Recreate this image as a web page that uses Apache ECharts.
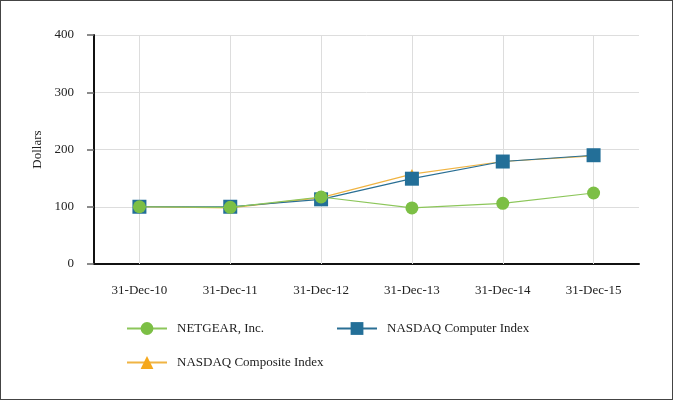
<!DOCTYPE html>
<html><head><meta charset="utf-8">
<script src="https://cdn.jsdelivr.net/npm/echarts@6/dist/echarts.min.js"></script>
<style>html,body{margin:0;padding:0;background:#fff}#c{width:671px;height:398px;border:1px solid #444;}</style>
</head><body><div id="c"></div>
<script>
const categories = ['31-Dec-10','31-Dec-11','31-Dec-12','31-Dec-13','31-Dec-14','31-Dec-15'];
const netgear = [100, 99, 117, 98, 106, 124];
const nasdaqComputer = [100, 100, 113, 149, 179, 190];
const nasdaqComposite = [100, 98, 116, 157, 179, 189];
const yTicks = [0, 100, 200, 300, 400];

const font = 'Liberation Serif';
const chart = echarts.init(document.getElementById('c'));
chart.setOption({
  animation: false,
  textStyle: {fontFamily: font},
  grid: {left: 93, top: 34, width: 545, height: 229},
  legend: [{
    left: 125, top: 321, padding: 0, itemWidth: 40, itemHeight: 16, itemGap: 72,
    textStyle: {fontFamily: font, fontSize: 13, color: '#222', padding: [0, 0, 0, 5]},
    data: ['NETGEAR, Inc.', 'NASDAQ Computer Index']
  }, {
    left: 125, top: 355, padding: 0, itemWidth: 40, itemHeight: 16,
    textStyle: {fontFamily: font, fontSize: 13, color: '#222', padding: [0, 0, 0, 5]},
    data: ['NASDAQ Composite Index']
  }],
  xAxis: {
    type: 'category', data: categories, boundaryGap: true,
    axisLine: {lineStyle: {color: '#111', width: 2}},
    axisTick: {show: false},
    axisLabel: {fontFamily: font, fontSize: 13, color: '#222', margin: 20},
    splitLine: {show: false}
  },
  yAxis: {
    type: 'value', min: yTicks[0], max: yTicks[yTicks.length-1], interval: 100,
    name: 'Dollars', nameLocation: 'middle', nameGap: 49,
    nameTextStyle: {fontFamily: font, fontSize: 13, color: '#222'},
    axisLine: {show: true, onZero: false, lineStyle: {color: '#111', width: 2}},
    axisTick: {show: true, inside: false, length: 7, lineStyle: {color: '#666', width: 1.5}},
    axisLabel: {fontFamily: font, fontSize: 13, color: '#222', margin: 20},
    splitLine: {lineStyle: {color: '#ddd'}}
  },
  series: [{
    name: 'NETGEAR, Inc.', type: 'line', data: netgear, z: 4,
    symbol: 'circle', symbolSize: 13,
    lineStyle: {color: '#8cc65a', width: 1.2},
    itemStyle: {color: '#7cbf45'}
  }, {
    name: 'NASDAQ Computer Index', type: 'line', data: nasdaqComputer, z: 3,
    symbol: 'rect', symbolSize: 14,
    lineStyle: {color: '#2a6f94', width: 1.2},
    itemStyle: {color: '#236f98'}
  }, {
    name: 'NASDAQ Composite Index', type: 'line', data: nasdaqComposite, z: 2,
    symbol: 'triangle', symbolSize: 10,
    lineStyle: {color: '#f0b443', width: 1.2},
    itemStyle: {color: '#f5a81c'},
    markLine: {
      silent: true, symbol: 'none', label: {show: false}, z: 1,
      lineStyle: {color: '#ddd', type: 'solid', width: 1},
      data: categories.map(c => ({xAxis: c}))
    }
  }]
});
</script></body></html>
